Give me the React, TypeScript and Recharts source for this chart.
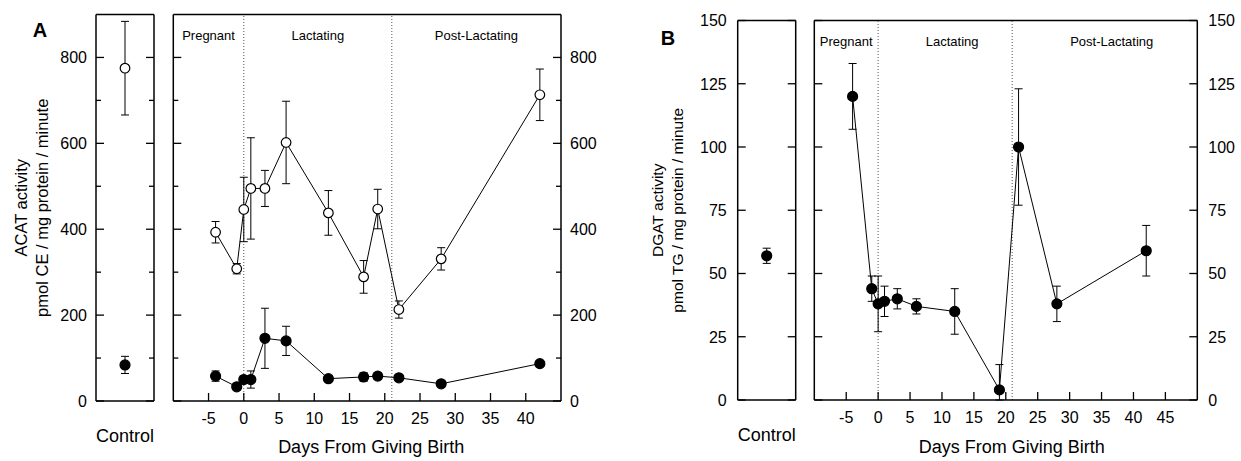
import React from "react";
import {
  ComposedChart,
  Line,
  XAxis,
  YAxis,
  ErrorBar,
  ReferenceLine,
  ReferenceArea,
} from "recharts";

const FONT = "'Liberation Sans', Arial, Helvetica, sans-serif";
const H = 461;

// Panel A — ACAT activity (pmol CE / mg protein / minute)
const acatDays = [-4, -1, 0, 1, 3, 6, 12, 17, 19, 22, 28, 42];
const acatOpen = [393, 308, 446, 495, 495, 602, 438, 289, 447, 213, 331, 713];
const acatOpenErr = [25, 12, 75, 118, 42, 96, 52, 38, 46, 20, 26, 60];
const acatFilled = [58, 33, 50, 50, 146, 140, 52, 56, 58, 54, 40, 87];
const acatFilledErr = [12, 5, 8, 20, 70, 34, 6, 10, 8, 6, 5, 6];
const acatCtlOpen = [775];
const acatCtlOpenErr = [109];
const acatCtlFilled = [84];
const acatCtlFilledErr = [20];

// Panel B — DGAT activity (pmol TG / mg protein / minute)
const dgatDays = [-4, -1, 0, 1, 3, 6, 12, 19, 22, 28, 42];
const dgatVals = [120, 44, 38, 39, 40, 37, 35, 4, 100, 38, 59];
const dgatErr = [13, 5, 11, 6, 4, 3, 9, 10, 23, 7, 10];
const dgatCtl = [57];
const dgatCtlErr = [3];

const controlLabels = ["Control"];
const phaseNames = ["Pregnant", "Lactating", "Post-Lactating"];
const phaseEdges = [0, 21];

const acatTicks = [0, 100, 200, 300, 400, 500, 600, 700, 800];
const dgatTicks = [0, 25, 50, 75, 100, 125, 150];
const dayTicksA = [-5, 0, 5, 10, 15, 20, 25, 30, 35, 40];
const dayTicksB = [-5, 0, 5, 10, 15, 20, 25, 30, 35, 40, 45];

const acatRows = acatDays.map((day, i) => ({
  day,
  open: acatOpen[i],
  openErr: acatOpenErr[i],
  filled: acatFilled[i],
  filledErr: acatFilledErr[i],
}));
const acatCtlRows = controlLabels.map((name, i) => ({
  name,
  open: acatCtlOpen[i],
  openErr: acatCtlOpenErr[i],
  filled: acatCtlFilled[i],
  filledErr: acatCtlFilledErr[i],
}));
const dgatRows = dgatDays.map((day, i) => ({ day, dgat: dgatVals[i], dgatErr: dgatErr[i] }));
const dgatCtlRows = controlLabels.map((name, i) => ({ name, dgat: dgatCtl[i], dgatErr: dgatCtlErr[i] }));

type Series = { key: string; err: string; hollow: boolean };
const ACAT_SERIES: Series[] = [
  { key: "open", err: "openErr", hollow: true },
  { key: "filled", err: "filledErr", hollow: false },
];
const DGAT_SERIES: Series[] = [{ key: "dgat", err: "dgatErr", hollow: false }];

const AXIS = { stroke: "#000", strokeWidth: 1.5 };

function makeYTick(side: "left" | "right", showLabels: boolean, majorStep: number, gap: number) {
  return function YTick(props: any) {
    const { x, y, payload } = props;
    const v = payload.value as number;
    const major = v % majorStep === 0;
    const d = side === "left" ? 1 : -1;
    return (
      <g>
        <line x1={x} x2={x + d * (major ? 8 : 5)} y1={y} y2={y} stroke="#000" strokeWidth={1.3} />
        {showLabels && major ? (
          <text
            x={x - d * gap}
            y={y}
            dy="0.36em"
            textAnchor={side === "left" ? "end" : "start"}
            fontSize={16}
            fill="#000"
          >
            {v}
          </text>
        ) : null}
      </g>
    );
  };
}

function DayTick(props: any) {
  const { x, y, payload } = props;
  return (
    <g>
      <line x1={x} x2={x} y1={y} y2={y - 8} stroke="#000" strokeWidth={1.3} />
      <text x={x} y={y + 17} dy="0.36em" textAnchor="middle" fontSize={16} fill="#000">
        {payload.value}
      </text>
    </g>
  );
}

function ControlTick(props: any) {
  const { x, y, payload } = props;
  return (
    <text x={x} y={y + 35} dy="0.36em" textAnchor="middle" fontSize={18} fill="#000">
      {payload.value}
    </text>
  );
}

function titleLabel(lines: string[], xs: number[], size: number) {
  return function Title(props: any) {
    const vb = props.viewBox || { y: 0, height: 0 };
    const cy = vb.y + vb.height / 2;
    return (
      <g>
        {lines.map((t, i) => (
          <text
            key={t}
            x={xs[i]}
            y={cy}
            dy="0.35em"
            transform={`rotate(-90 ${xs[i]} ${cy})`}
            textAnchor="middle"
            fontSize={size}
            fill="#000"
          >
            {t}
          </text>
        ))}
      </g>
    );
  };
}

function renderSeries(series: Series[]) {
  return series.map((s) => (
    <Line
      key={s.key}
      dataKey={s.key}
      type="linear"
      stroke="#000"
      strokeWidth={1}
      isAnimationActive={false}
      activeDot={false}
      dot={{ r: s.hollow ? 4.8 : 5, fill: s.hollow ? "#fff" : "#000", stroke: "#000", strokeWidth: 1.2 }}
    >
      <ErrorBar
        dataKey={(d: any) => [Math.min(d[s.err], d[s.key]), d[s.err]]}
        width={4}
        stroke="#000"
        strokeWidth={1}
        direction="y"
        isAnimationActive={false}
      />
    </Line>
  ));
}

interface ControlProps {
  left: number;
  width: number;
  plotLeft: number;
  plotRight: number;
  top: number;
  bottom: number;
  yMax: number;
  ticks: number[];
  majorStep: number;
  gap: number;
  data: any[];
  series: Series[];
  title: string[];
  titleX: number[];
  titleSize: number;
}

function ControlChart(p: ControlProps) {
  return (
    <div style={{ position: "absolute", left: p.left, top: 0 }}>
      <ComposedChart
        width={p.width}
        height={H}
        data={p.data}
        margin={{ top: p.top, right: 0, bottom: 0, left: 0 }}
      >
        <XAxis
          dataKey="name"
          type="category"
          height={H - p.bottom}
          tickSize={0}
          tickMargin={0}
          tickLine={false}
          axisLine={AXIS}
          tick={ControlTick}
        />
        <YAxis
          type="number"
          domain={[0, p.yMax]}
          allowDataOverflow
          ticks={p.ticks}
          interval={0}
          width={p.plotLeft}
          tickSize={0}
          tickMargin={0}
          tickLine={false}
          axisLine={AXIS}
          tick={makeYTick("left", true, p.majorStep, p.gap)}
          label={{ content: titleLabel(p.title, p.titleX, p.titleSize) }}
        />
        <YAxis
          yAxisId="r"
          orientation="right"
          type="number"
          domain={[0, p.yMax]}
          allowDataOverflow
          ticks={p.ticks}
          interval={0}
          width={p.width - p.plotRight}
          tickSize={0}
          tickMargin={0}
          tickLine={false}
          axisLine={AXIS}
          tick={makeYTick("right", false, p.majorStep, p.gap)}
        />
        <ReferenceLine y={p.yMax} stroke="#000" strokeWidth={1.5} />
        {renderSeries(p.series)}
      </ComposedChart>
    </div>
  );
}

interface MainProps {
  left: number;
  width: number;
  plotLeft: number;
  plotRight: number;
  top: number;
  bottom: number;
  xDomain: [number, number];
  xTicks: number[];
  yMax: number;
  yTicks: number[];
  majorStep: number;
  gap: number;
  data: any[];
  series: Series[];
  phaseDx: number;
  titleDx: number;
}

function MainChart(p: MainProps) {
  const bounds = [p.xDomain[0], ...phaseEdges, p.xDomain[1]];
  return (
    <div style={{ position: "absolute", left: p.left, top: 0 }}>
      <ComposedChart
        width={p.width}
        height={H}
        data={p.data}
        margin={{ top: p.top, right: 0, bottom: 0, left: 0 }}
      >
        <XAxis
          dataKey="day"
          type="number"
          domain={p.xDomain}
          allowDataOverflow
          ticks={p.xTicks}
          interval={0}
          height={H - p.bottom}
          tickSize={0}
          tickMargin={0}
          tickLine={false}
          axisLine={AXIS}
          tick={DayTick}
          label={{
            value: "Days From Giving Birth",
            position: "insideBottom",
            offset: 8,
            dx: p.titleDx,
            fontSize: 18,
            fill: "#000",
          }}
        />
        <YAxis
          type="number"
          domain={[0, p.yMax]}
          allowDataOverflow
          ticks={p.yTicks}
          interval={0}
          width={p.plotLeft}
          tickSize={0}
          tickMargin={0}
          tickLine={false}
          axisLine={AXIS}
          tick={makeYTick("left", false, p.majorStep, p.gap)}
        />
        <YAxis
          yAxisId="r"
          orientation="right"
          type="number"
          domain={[0, p.yMax]}
          allowDataOverflow
          ticks={p.yTicks}
          interval={0}
          width={p.width - p.plotRight}
          tickSize={0}
          tickMargin={0}
          tickLine={false}
          axisLine={AXIS}
          tick={makeYTick("right", true, p.majorStep, p.gap)}
        />
        <ReferenceLine y={p.yMax} stroke="#000" strokeWidth={1.5} />
        {phaseNames.map((name, i) => (
          <ReferenceArea
            key={name}
            x1={bounds[i]}
            x2={bounds[i + 1]}
            fillOpacity={0}
            strokeOpacity={0}
            label={{
              value: name,
              position: "insideTop",
              offset: 16,
              dx: i > 0 ? p.phaseDx : 0,
              fontSize: 13,
              fill: "#000",
            }}
          />
        ))}
        {phaseEdges.map((e) => (
          <ReferenceLine key={e} x={e} stroke="#555" strokeWidth={1} strokeDasharray="1 2" />
        ))}
        {renderSeries(p.series)}
      </ComposedChart>
    </div>
  );
}

export default function App() {
  return (
    <div
      style={{
        position: "absolute",
        left: 0,
        top: 0,
        width: 1241,
        height: H,
        background: "#fff",
        fontFamily: FONT,
        overflow: "hidden",
      }}
    >
      <ControlChart
        left={0}
        width={170}
        plotLeft={96}
        plotRight={154}
        top={14.5}
        bottom={401}
        yMax={900}
        ticks={acatTicks}
        majorStep={200}
        gap={9}
        data={acatCtlRows}
        series={ACAT_SERIES}
        title={["ACAT activity", "pmol CE / mg protein / minute"]}
        titleX={[21.5, 42]}
        titleSize={16.5}
      />
      <MainChart
        left={160}
        width={460}
        plotLeft={13.3}
        plotRight={401}
        top={14.5}
        bottom={401}
        xDomain={[-10, 45]}
        xTicks={dayTicksA}
        yMax={900}
        yTicks={acatTicks}
        majorStep={200}
        gap={9}
        data={acatRows}
        series={ACAT_SERIES}
        phaseDx={0}
        titleDx={4}
      />
      <ControlChart
        left={620}
        width={190}
        plotLeft={117.7}
        plotRight={175.7}
        top={20.5}
        bottom={400}
        yMax={150}
        ticks={dgatTicks}
        majorStep={25}
        gap={11}
        data={dgatCtlRows}
        series={DGAT_SERIES}
        title={["DGAT activity", "pmol TG / mg protein / minute"]}
        titleX={[38, 58]}
        titleSize={15.5}
      />
      <MainChart
        left={800}
        width={441}
        plotLeft={14.3}
        plotRight={397.3}
        top={20.5}
        bottom={400}
        xDomain={[-10, 50]}
        xTicks={dayTicksB}
        yMax={150}
        yTicks={dgatTicks}
        majorStep={25}
        gap={11}
        data={dgatRows}
        series={DGAT_SERIES}
        phaseDx={7}
        titleDx={6}
      />
      <svg width={1241} height={H} style={{ position: "absolute", left: 0, top: 0, pointerEvents: "none" }}>
        <text x={40} y={37} textAnchor="middle" fontSize={20} fontWeight="bold" fill="#000">
          A
        </text>
        <text x={668} y={45} textAnchor="middle" fontSize={20} fontWeight="bold" fill="#000">
          B
        </text>
      </svg>
    </div>
  );
}
